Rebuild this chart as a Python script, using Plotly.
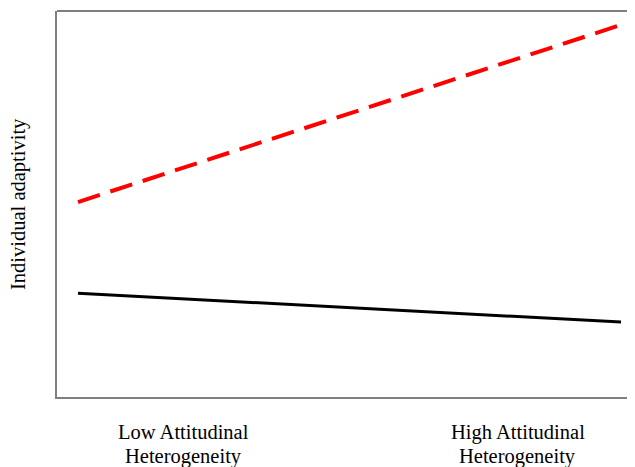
import plotly.graph_objects as go

# Data (arbitrary adaptivity units, 0-10 scale)
conditions = [0, 1]  # low, high attitudinal heterogeneity
series_red = [5.05, 9.64]
series_black = [2.69, 1.94]
label_positions = [0.194, 0.81]
label_line1 = ["Low Attitudinal", "High Attitudinal"]
label_line2 = ["Heterogeneity", "Heterogeneity"]
y_title = "Individual adaptivity"

fig = go.Figure()
fig.add_trace(go.Scatter(x=conditions, y=series_red, mode="lines",
                         line=dict(color="#ff0000", width=4, dash="23px,11px"),
                         showlegend=False, hoverinfo="skip"))
fig.add_trace(go.Scatter(x=conditions, y=series_black, mode="lines",
                         line=dict(color="#000000", width=3),
                         showlegend=False, hoverinfo="skip"))

font = dict(family="Liberation Serif, Times New Roman, serif", size=20.5, color="#000000")

annotations = []
for xp, t1, t2 in zip(label_positions, label_line1, label_line2):
    annotations.append(dict(x=xp, xref="x", y=-0.0907, yref="paper", text=t1,
                            showarrow=False, font=font, xanchor="center", yanchor="middle"))
    annotations.append(dict(x=xp, xref="x", y=-0.153, yref="paper", text=t2,
                            showarrow=False, font=font, xanchor="center", yanchor="middle"))
annotations.append(dict(x=0, xref="paper", y=0.5, yref="paper", text=y_title,
                        showarrow=False, font=font, textangle=-90,
                        xanchor="center", yanchor="middle", xshift=-39))

fig.update_layout(
    width=627, height=459,
    margin=dict(l=49, r=0, t=3, b=70),
    paper_bgcolor="white", plot_bgcolor="white",
    font=font,
    xaxis=dict(range=[-0.0387, 1.0258], showgrid=False, zeroline=False,
               showline=True, linecolor="#7f7f7f", linewidth=2,
               showticklabels=False, ticks=""),
    yaxis=dict(range=[0, 10], showgrid=False, zeroline=False,
               showline=True, linecolor="#7f7f7f", linewidth=2,
               showticklabels=False, ticks=""),
    shapes=[dict(type="line", xref="paper", yref="paper", x0=0, x1=1.05, y0=1, y1=1,
                 line=dict(color="#7f7f7f", width=2))],
    annotations=annotations,
)

fig.write_html("out.html")
